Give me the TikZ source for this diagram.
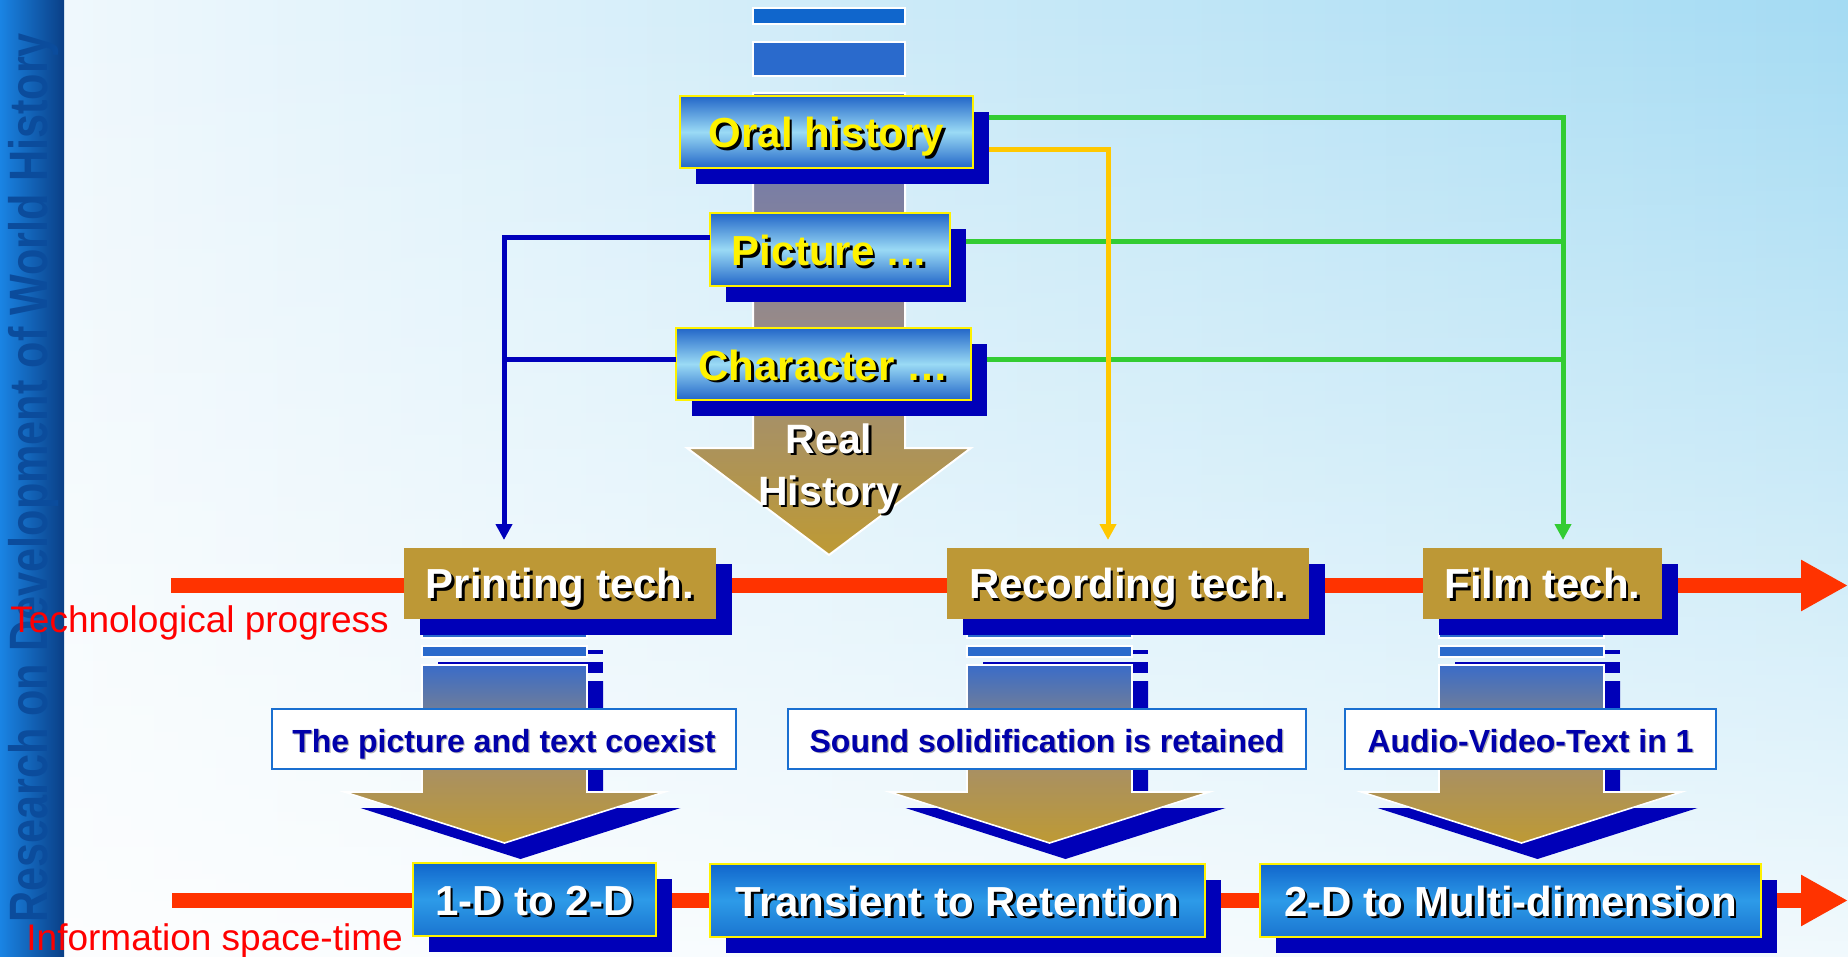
\documentclass[tikz,border=0pt]{standalone}
\usepackage{fontspec}
\setmainfont{Liberation Sans}
\usetikzlibrary{arrows.meta,shadows,fadings,calc}

\definecolor{bgL}{HTML}{F2F9FD}
\definecolor{bgR}{HTML}{A4DBF3}
\definecolor{sblue}{HTML}{0000B8}
\definecolor{boxdark}{HTML}{2266C8}
\definecolor{boxlight}{HTML}{9ADAF5}
\definecolor{gold}{HTML}{BD9836}
\definecolor{btop}{HTML}{1166CC}
\definecolor{bmid}{HTML}{2D9BE8}
\definecolor{bbot}{HTML}{1A74D0}
\definecolor{redl}{HTML}{FF3300}
\definecolor{greenc}{HTML}{33CC33}
\definecolor{yellowc}{HTML}{FFC800}
\definecolor{bluec}{HTML}{0000BB}
\definecolor{tbtext}{HTML}{0000AA}
\definecolor{tbborder}{HTML}{1A6FD0}
\definecolor{stripe}{HTML}{2A6ACC}
\definecolor{rectA}{HTML}{1066CC}
\definecolor{colTop}{HTML}{6676B8}
\definecolor{colMid}{HTML}{978A88}
\definecolor{colBot}{HTML}{BE9A34}
\definecolor{lcolTop}{HTML}{3A6CC8}
\definecolor{lcolMid}{HTML}{A48E6C}
\definecolor{stripL}{HTML}{1A84E4}
\definecolor{stripR}{HTML}{0A3F86}
\definecolor{striptx}{HTML}{0B4C9C}

\tikzfading[name=fadedown, top color=transparent!100, bottom color=transparent!15]

% text with a drop shadow: text colour, shadow colour, offset, text
\newcommand{\shd}[4]{\rlap{\kern#3\raisebox{-#3}[0pt][0pt]{\color{#2}#4}}{\color{#1}#4}}

% box node from corners: style, x1, y1, x2, y2, name, text
\newcommand{\placebox}[7]{%
  \node[#1, minimum width={(#4-#2)*0.5pt}, minimum height={(#5-#3)*0.5pt}]
    (#6) at ({(#2+#4)/2},{(#3+#5)/2}) {#7};}

% lower stripes + arrow below a tech box: column left x
\newcommand{\lowassembly}[1]{%
  \pgfmathsetmacro{\cl}{#1}\pgfmathsetmacro{\cR}{#1+165}\pgfmathsetmacro{\cm}{#1+82.5}%
  \pgfmathsetmacro{\al}{\cm-160}\pgfmathsetmacro{\ar}{\cm+160}%
  \begin{scope}[shift={(16,16)}]
    \fill[sblue] (\cl,634) rectangle (\cR,638);
    \fill[sblue] (\cl,646) rectangle (\cR,657);
    \fill[sblue] (\cl,665) -- (\cR,665) -- (\cR,792) -- (\ar,792) -- (\cm,843)
      -- (\al,792) -- (\cl,792) -- cycle;
  \end{scope}
  \filldraw[fill=stripe, draw=white, line width=0.8pt] (\cl,634) rectangle (\cR,638);
  \filldraw[fill=stripe, draw=white, line width=0.8pt] (\cl,646) rectangle (\cR,657);
  \shadedraw[top color=lcolTop, bottom color=colBot, middle color=lcolMid,
    draw=white, line width=0.8pt]
    (\cl,665) -- (\cR,665) -- (\cR,792) -- (\ar,792) -- (\cm,843)
      -- (\al,792) -- (\cl,792) -- cycle;
}

\tikzset{
  bshadow/.style={general shadow={fill=sblue, shadow xshift=8pt, shadow yshift=-8pt}},
  topbox/.style={draw=yellow, line width=1pt, top color=boxdark, bottom color=boxdark,
    middle color=boxlight, inner sep=0pt, outer sep=0pt, bshadow,
    text height=16pt, text depth=0pt,
    font=\bfseries\fontsize{21}{25}\selectfont},
  techbox/.style={fill=gold, inner sep=0pt, outer sep=0pt, bshadow,
    text height=15pt, text depth=0pt,
    font=\bfseries\fontsize{21}{25}\selectfont},
  botbox/.style={draw=yellow, line width=0.6pt, top color=btop, bottom color=bbot,
    middle color=bmid, inner sep=0pt, outer sep=0pt, bshadow,
    text height=15.5pt, text depth=0pt,
    font=\bfseries\fontsize{21}{25}\selectfont},
  textbox/.style={fill=white, draw=tbborder, line width=0.8pt, inner sep=0pt,
    outer sep=0pt, text height=13pt, text depth=0pt,
    font=\bfseries\fontsize{16}{19}\selectfont},
  realtext/.style={anchor=base, inner sep=0pt, font=\bfseries\fontsize{20.5}{24}\selectfont},
  conn/.style={line width=2.5pt},
  tip/.style={-{Triangle[width=8pt,length=8pt]}},
  redarrow/.style={draw=redl, line width=7.5pt, -{Triangle[width=24pt,length=23.5pt]}},
  sidelabel/.style={text=red, font=\fontsize{18.5}{22}\selectfont, anchor=base west,
    inner sep=0pt},
}

\begin{document}
\begin{tikzpicture}[x=0.5pt, y=-0.5pt, line join=miter]
\useasboundingbox (0,0) rectangle (1848,957);

% background
\shade[left color=bgL, right color=bgR] (0,0) rectangle (1848,957);
\fill[white, path fading=fadedown] (0,0) rectangle (1848,957);

% left decorative strip
\shade[left color=stripL, right color=stripR] (0,0) rectangle (64,957);
\node[rotate=90, text=striptx, inner sep=0pt, font=\bfseries\fontsize{27}{27}\selectfont]
  (strip) at (34,478) {\scalebox{0.8}[1]{Research on Development of World History}};

% top column with arrow
\filldraw[fill=rectA, draw=white, line width=1pt] (753,8) rectangle (905,24);
\filldraw[fill=stripe, draw=white, line width=1pt] (753,42) rectangle (905,76);
\shadedraw[top color=colTop, bottom color=colBot, middle color=colMid, draw=white,
  line width=1pt]
  (753,93) -- (905,93) -- (905,448) -- (971,448) -- (829,555) -- (687,448)
  -- (753,448) -- cycle;

% technological progress line
\coordinate (t0) at (171,585.5);
\coordinate (t1) at (1848,585.5);
\draw[redarrow] (t0) -- (t1);

% lower assemblies
\lowassembly{422}
\lowassembly{967}
\lowassembly{1439}

\placebox{textbox}{272}{709}{736}{769}{tb1}{\shd{tbtext}{black!30}{0.6pt}{The picture and text coexist}}
\placebox{textbox}{788}{709}{1306}{769}{tb2}{\shd{tbtext}{black!30}{0.6pt}{Sound solidification is retained}}
\placebox{textbox}{1345}{709}{1716}{769}{tb3}{\shd{tbtext}{black!30}{0.6pt}{Audio-Video-Text in 1}}

% tech boxes
\placebox{techbox}{404}{548}{716}{619}{printing}{\shd{white}{black}{1.3pt}{Printing tech.}}
\placebox{techbox}{947}{548}{1309}{619}{recording}{\shd{white}{black}{1.3pt}{Recording tech.}}
\placebox{techbox}{1423}{548}{1662}{619}{film}{\shd{white}{black}{1.3pt}{Film tech.}}

% top boxes
\placebox{topbox}{680}{96}{973}{168}{oral}{\shd{yellow}{black}{1.4pt}{Oral history}}
\placebox{topbox}{710}{213}{950}{286}{picture}{\shd{yellow}{black}{1.4pt}{Picture …}}
\placebox{topbox}{676}{328}{971}{400}{character}{\shd{yellow}{black}{1.4pt}{Character …}}

% Real History
\node[realtext] (real1) at (829,453) {\shd{white}{black}{1.2pt}{Real}};
\node[realtext] (real2) at (829,505) {\shd{white}{black}{1.2pt}{History}};

% information space-time line
\coordinate (b0) at (172,900.5);
\coordinate (b1) at (1848,900.5);
\draw[redarrow] (b0) -- (b1);

% bottom boxes
\placebox{botbox}{413}{863}{656}{936}{d12}{\shd{white}{black}{1.3pt}{1-D to 2-D}}
\placebox{botbox}{710}{864}{1205}{937}{trans}{\shd{white}{black}{1.3pt}{Transient to Retention}}
\placebox{botbox}{1260}{864}{1761}{937}{multi}{\shd{white}{black}{1.3pt}{2-D to Multi-dimension}}

% connectors
\coordinate (tipP) at ($(printing.north)+(-56,-8)$);
\coordinate (tipR) at ($(recording.north)+(-20,-8)$);
\coordinate (tipF) at ($(film.north)+(20.5,-8)$);

\coordinate (pe) at ($(picture.east)+(16,-7.5)$);
\coordinate (ce) at ($(character.east)+(16,-4)$);
\draw[conn, draw=greenc, tip] ($(oral.east)+(16,-14)$) -| (tipF);
\draw[conn, draw=greenc] (pe) -- (pe -| tipF);
\draw[conn, draw=greenc] (ce) -- (ce -| tipF);

\draw[conn, draw=yellowc, tip] ($(oral.east)+(16,18)$) -| (tipR);

\coordinate (cw) at ($(character.west)+(0,-4)$);
\draw[conn, draw=bluec, tip] ($(picture.west)+(0,-11.5)$) -| (tipP);
\draw[conn, draw=bluec] (cw) -- (cw -| tipP);

% side labels
\node[sidelabel] (techlabel) at (10,632) {Technological progress};
\node[sidelabel] (infolabel) at (26,950) {Information space-time};
\end{tikzpicture}
\end{document}
